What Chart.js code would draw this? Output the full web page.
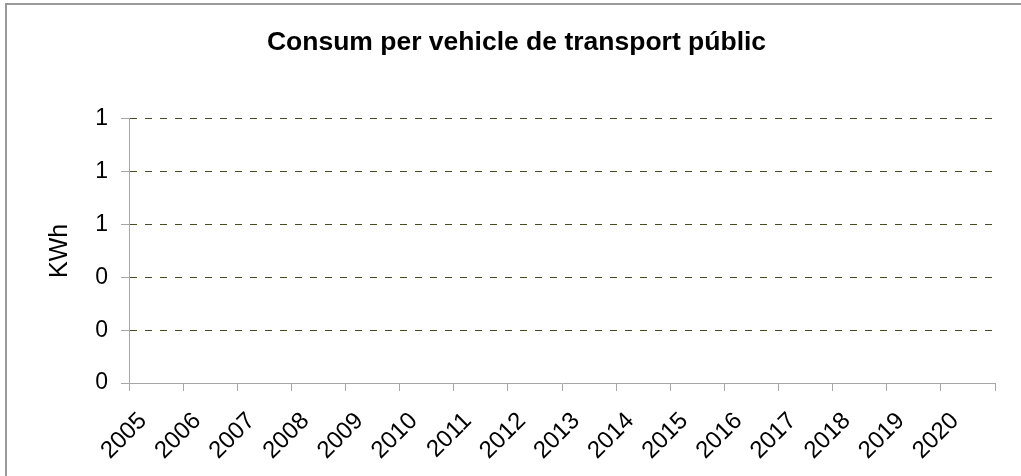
<!DOCTYPE html>
<html>
<head>
<meta charset="utf-8">
<script src="https://cdn.jsdelivr.net/npm/chart.js"></script>
<style>
  html, body { margin: 0; padding: 0; background: #fff; overflow: hidden; }
  #wrap { position: relative; width: 1021px; height: 476px; }
  #frame {
    position: absolute; left: 5px; top: 3px; width: 1100px; height: 600px;
    border-left: 2px solid #9a9a9a; border-top: 2px solid #9a9a9a;
    pointer-events: none;
  }
</style>
</head>
<body>
<div id="wrap">
  <canvas id="chart" width="1021" height="476"></canvas>
  <div id="frame"></div>
</div>
<script>
// Data
const years = ['2005', '2006', '2007', '2008', '2009', '2010', '2011', '2012',
               '2013', '2014', '2015', '2016', '2017', '2018', '2019', '2020'];
// no values are plotted in the reference
const consum = [null, null, null, null, null, null, null, null,
                null, null, null, null, null, null, null, null];
const yTicks = [0, 0.2, 0.4, 0.6, 0.8, 1];
const yTickLabels = ['0', '0', '0', '1', '1', '1'];

const FONT = 'Liberation Sans, Arial, sans-serif';
const axisGray = '#a6a6a6';
const gridOlive = '#4a4a22';

const ctx = document.getElementById('chart');
new Chart(ctx, {
    type: 'line',
    data: {
        labels: years,
        datasets: [{
            label: 'KWh',
            data: consum,
            borderColor: '#000080',
            pointRadius: 0
        }]
    },
    options: {
        responsive: false,
        animation: false,
        // left padding pushes the chart title a bit right, like the original
        layout: { padding: { left: 38, right: 26, top: 0, bottom: 0 } },
        plugins: {
            legend: { display: false },
            tooltip: { enabled: false },
            title: {
                display: true,
                text: 'Consum per vehicle de transport públic',
                color: '#000',
                font: { family: FONT, size: 26.5, weight: 'bold' },
                padding: { top: 27, bottom: 60 }
            }
        },
        scales: {
            x: {
                offset: true,
                grid: {
                    offset: true,
                    drawOnChartArea: false,
                    drawTicks: true,
                    tickLength: 8,
                    tickColor: axisGray
                },
                border: { color: axisGray },
                ticks: {
                    autoSkip: false,
                    minRotation: 45,
                    maxRotation: 45,
                    color: '#000',
                    font: { family: FONT, size: 24 },
                    padding: 16,
                    labelOffset: -13
                },
                afterFit: (s) => { s.height = 93; }
            },
            y: {
                min: 0,
                max: 1,
                afterBuildTicks: (s) => { s.ticks = yTicks.map(v => ({ value: v })); },
                grid: {
                    color: (c) => (c.tick && c.tick.value === 0) ? 'rgba(0,0,0,0)' : gridOlive,
                    tickColor: axisGray,
                    tickLength: 8
                },
                border: { color: axisGray, dash: [7, 8] },
                ticks: {
                    color: '#000',
                    font: { family: FONT, size: 23 },
                    padding: 13,
                    callback: (v, i) => yTickLabels[i]
                },
                title: {
                    display: true,
                    text: 'KWh',
                    color: '#000',
                    font: { family: FONT, size: 25 },
                    padding: { top: 7, bottom: 0 }
                },
                afterFit: (s) => { s.width = 91; }
            }
        }
    }
});
</script>
</body>
</html>
